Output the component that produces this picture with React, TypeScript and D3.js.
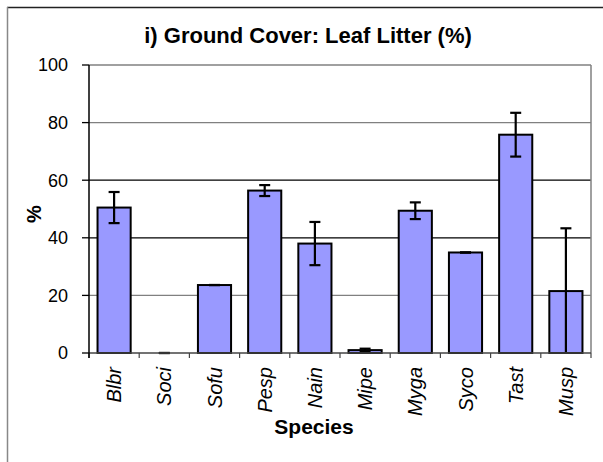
import React from "react";
import * as d3 from "d3";

// leaf litter ground cover, mean % and error per species
const species = ["Blbr", "Soci", "Sofu", "Pesp", "Nain", "Mipe", "Myga", "Syco", "Tast", "Musp"];
const means = [50.5, 0, 23.6, 56.4, 38.0, 1.0, 49.4, 34.9, 75.8, 21.5];
const errors = [5.4, 0, 0, 1.9, 7.5, 0.5, 2.9, 0, 7.6, 21.8];
const yTicks = [0, 20, 40, 60, 80, 100];

const W = 603;
const H = 462;
const margin = { top: 65, right: 12, bottom: 109, left: 89 };
const font = "Arial, 'Liberation Sans', sans-serif";

export default function App() {
  const x = d3
    .scaleBand<string>()
    .domain(species)
    .range([margin.left, W - margin.right])
    .paddingInner(0.34)
    .paddingOuter(0.17);
  const y = d3.scaleLinear().domain([0, 100]).range([H - margin.bottom, margin.top]);
  const step = x.step();
  const x0 = margin.left;
  const x1 = W - margin.right;
  const y0 = y(0);

  // Excel renders some gridlines darker than others
  const gridColor = (t: number) => (t === 40 || t === 60 ? "#000" : "#808080");

  return (
    <svg
      width={W}
      height={H}
      style={{ position: "absolute", left: 0, top: 0, background: "#fff" }}
      fontFamily={font}
    >
      {/* outer chart frame */}
      <line x1={7} y1={7.5} x2={W} y2={7.5} stroke="#222" strokeWidth={1.5} />
      <line x1={7.5} y1={7} x2={7.5} y2={H} stroke="#888" strokeWidth={1.5} />

      <text x={308} y={43} textAnchor="middle" fontSize={22} fontWeight="bold">
        i) Ground Cover: Leaf Litter (%)
      </text>

      {/* gridlines + plot border */}
      {yTicks.filter((t) => t > 0).map((t) => (
        <line key={t} x1={x0} x2={x1} y1={y(t)} y2={y(t)} stroke={gridColor(t)} strokeWidth={1.3} />
      ))}
      <line x1={x1} x2={x1} y1={y(100)} y2={y0} stroke="#808080" strokeWidth={1.5} />

      {/* bars */}
      {species.map((s, i) =>
        means[i] > 0 ? (
          <rect
            key={s}
            x={x(s)}
            y={y(means[i])}
            width={x.bandwidth()}
            height={y0 - y(means[i])}
            fill="#9999FF"
            stroke="#000"
            strokeWidth={2}
          />
        ) : null
      )}

      {/* error bars */}
      {species.map((s, i) => {
        const cx = (x(s) as number) + x.bandwidth() / 2;
        const hi = y(means[i] + errors[i]);
        const lo = y(Math.max(0, means[i] - errors[i]));
        const clipped = means[i] - errors[i] < 0;
        return (
          <g key={s} stroke="#000" strokeWidth={2.2}>
            <line x1={cx} x2={cx} y1={hi} y2={lo} />
            <line x1={cx - 5.5} x2={cx + 5.5} y1={hi} y2={hi} />
            {!clipped && <line x1={cx - 5.5} x2={cx + 5.5} y1={lo} y2={lo} />}
          </g>
        );
      })}

      {/* x axis */}
      <line x1={x0} x2={x1} y1={y0} y2={y0} stroke="#444" strokeWidth={1.5} />
      {d3.range(species.length + 1).map((k) => (
        <line
          key={k}
          x1={x0 + k * step}
          x2={x0 + k * step}
          y1={y0}
          y2={y0 + 5}
          stroke="#444"
          strokeWidth={1.2}
        />
      ))}
      {species.map((s) => (
        <text
          key={s}
          transform={`translate(${(x(s) as number) + x.bandwidth() / 2},367) rotate(-90)`}
          dy="0.35em"
          textAnchor="end"
          fontSize={20}
          fontStyle="italic"
        >
          {s}
        </text>
      ))}
      <text x={314} y={434} textAnchor="middle" fontSize={21} fontWeight="bold">
        Species
      </text>

      {/* y axis */}
      <line x1={x0} x2={x0} y1={y(100)} y2={y0 + 5} stroke="#000" strokeWidth={1.5} />
      {yTicks.map((t) => (
        <g key={t}>
          <line x1={x0 - 7} x2={x0} y1={y(t)} y2={y(t)} stroke="#000" strokeWidth={1.3} />
          <text x={68} y={y(t)} dy="0.36em" textAnchor="end" fontSize={18}>
            {t}
          </text>
        </g>
      ))}
      <text transform="translate(41,214) rotate(-90)" textAnchor="middle" fontSize={20} fontWeight="bold">
        %
      </text>
    </svg>
  );
}
